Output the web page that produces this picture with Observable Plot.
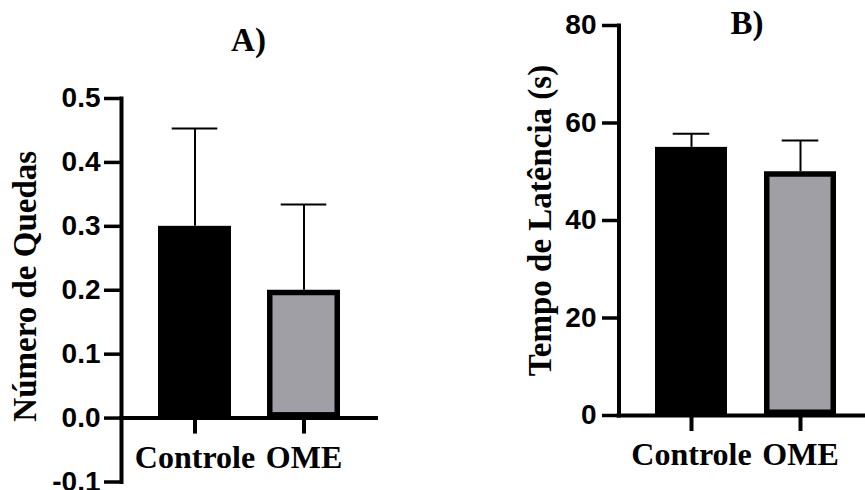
<!DOCTYPE html>
<html><head><meta charset="utf-8">
<script src="https://cdn.jsdelivr.net/npm/d3@7"></script>
<script src="https://cdn.jsdelivr.net/npm/@observablehq/plot@0.6"></script>
<style>
body{margin:0;background:#fff}
#wrap{display:flex;width:865px;height:490px;background:#fff}
#wrap svg{display:block;flex:none}
</style></head><body><div id="wrap"></div>
<script>
const categories = ["Controle", "OME"];
const quedasMean = [0.3, 0.2];
const quedasErr = [0.153, 0.134];
const latenciaMean = [55, 50];
const latenciaErr = [2.8, 6.4];
const quedasTicks = [-0.1, 0, 0.1, 0.2, 0.3, 0.4, 0.5];
const latenciaTicks = [0, 20, 40, 60, 80];
const panelTitles = ["A)", "B)"];
const yLabels = ["Número de Quedas", "Tempo de Latência (s)"];
const barFills = ["#000000", "#a09fa5"];

const SERIF = "Liberation Serif, Times New Roman, serif";
const SANS = "Liberation Sans, Arial, sans-serif";

function panel(o) {
  const data = categories.map((c, i) => ({cat: c, mean: o.means[i], err: o.errs[i], fill: barFills[i]}));
  const sw = 5.5;
  return Plot.plot({
    width: o.width, height: 490,
    marginLeft: o.marginLeft, marginTop: o.marginTop, marginBottom: o.marginBottom, marginRight: o.marginRight,
    style: {background: "#fff", color: "#000", overflow: "visible"},
    x: {type: "band", domain: categories, paddingInner: o.paddingInner, paddingOuter: o.paddingOuter, align: o.align, axis: null},
    y: {domain: o.yDomain, axis: null},
    marks: [
      Plot.ruleX(data, {x: "cat", y1: "mean", y2: d => d.mean + d.err, stroke: "#000", strokeWidth: 2}),
      Plot.tickY(data, {x: "cat", y: d => d.mean + d.err, stroke: "#000", strokeWidth: 2, insetLeft: o.capInset, insetRight: o.capInset}),
      Plot.barY(data, {x: "cat", y: "mean", fill: "fill", stroke: "#000", strokeWidth: sw, inset: sw / 2}),
      Plot.axisY({ticks: o.yTicks, tickFormat: o.fmt, tickSize: o.tickSize, tickPadding: o.tickPadding, strokeWidth: 3.5,
        fontFamily: SANS, fontSize: 28, fontWeight: "bold", label: null}),
      Plot.frame({anchor: "left", stroke: "#000", strokeWidth: 4, strokeLinecap: "square"}),
      Plot.ruleY([0], {stroke: "#000", strokeWidth: 4, insetLeft: -2}),
      Plot.ruleX(categories, {x: d => d, y1: 0, y2: 0, insetBottom: -16, stroke: "#000", strokeWidth: 4}),
      Plot.text(categories, {x: d => d, y: 0, dy: o.xLabelDy, text: d => d, lineAnchor: "bottom",
        fontFamily: SERIF, fontSize: 32, fontWeight: "bold", fill: "#000"}),
      Plot.text([o.title], {frameAnchor: "top", dx: o.titleDx, dy: o.titleDy, text: d => d, lineAnchor: "bottom",
        textAnchor: "middle", fontFamily: SERIF, fontSize: 33, fontWeight: "bold", fill: "#000"}),
      Plot.text([o.label], {frameAnchor: "left", dx: o.labelDx, dy: o.labelDy, rotate: -90, text: d => d, lineAnchor: "bottom",
        textAnchor: "middle", fontFamily: SERIF, fontSize: 33, fontWeight: "bold", fill: "#000"})
    ]
  });
}

const wrap = document.getElementById("wrap");
wrap.append(panel({
  width: 430, marginLeft: 121, marginTop: 98, marginBottom: 8.5, marginRight: 52,
  paddingInner: 0.3288, paddingOuter: 0.3397, align: 0.4886,
  yDomain: [-0.1, 0.5], yTicks: quedasTicks, fmt: d => d.toFixed(1),
  means: quedasMean, errs: quedasErr, capInset: 13.7, tickSize: 17, tickPadding: 4,
  xLabelDy: 50, title: panelTitles[0], titleDx: -1.5, titleDy: -48,
  label: yLabels[0], labelDx: -86, labelDy: -4
}));
wrap.append(panel({
  width: 435, marginLeft: 188.5, marginTop: 25, marginBottom: 75, marginRight: 0,
  paddingInner: 0.3364, paddingOuter: 0.2975, align: 0.554,
  yDomain: [0, 80], yTicks: latenciaTicks, fmt: d => String(d),
  means: latenciaMean, errs: latenciaErr, capInset: 17.7, tickSize: 16.5, tickPadding: 6,
  xLabelDy: 49, title: panelTitles[1], titleDx: 4.75, titleDy: 8,
  label: yLabels[1], labelDx: -68.5, labelDy: 0
}));
</script></body></html>
